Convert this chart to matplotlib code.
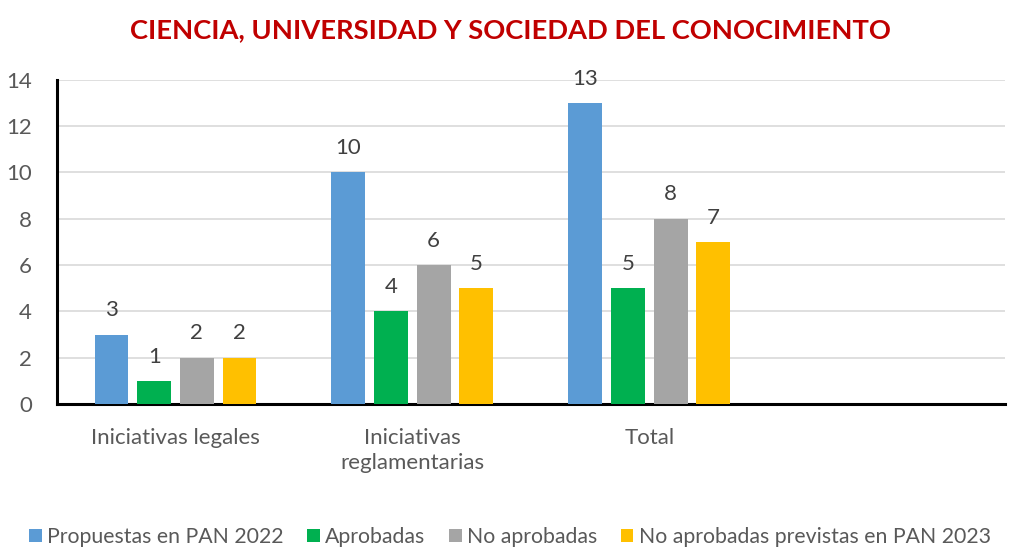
import matplotlib
matplotlib.use("Agg")
import matplotlib.pyplot as plt
import numpy as np

plt.rcParams["font.family"] = ["Lato", "DejaVu Sans"]

categorias = ["Iniciativas legales", "Iniciativas\nreglamentarias", "Total", ""]
series = [
    "Propuestas en PAN 2022",
    "Aprobadas",
    "No aprobadas",
    "No aprobadas previstas en PAN 2023",
]
propuestas = [3, 10, 13]
aprobadas = [1, 4, 5]
no_aprobadas = [2, 6, 8]
previstas = [2, 5, 7]
colores = ["#5B9BD5", "#00B050", "#A5A5A5", "#FFC000"]

gris = "#595959"

fig = plt.figure(figsize=(10.2, 5.47), dpi=100)
ax = fig.add_axes([0.0559, 0.2614, 0.9291, 0.5926])

x = np.arange(len(propuestas))
ancho = 0.143
paso = 0.18
for i, (vals, nombre, c) in enumerate(zip([propuestas, aprobadas, no_aprobadas, previstas], series, colores)):
    pos = x + (i - 1.5) * paso
    barras = ax.bar(pos, vals, width=ancho, color=c, label=nombre, zorder=3)
    for b, v in zip(barras, vals):
        ax.text(b.get_x() + b.get_width() / 2, v + 0.62, str(v),
                ha="center", va="bottom", fontsize=16, color="#404040")

ax.set_xlim(-0.5, 3.5)
ax.set_ylim(0, 14)
ax.set_yticks(range(0, 15, 2))
ax.set_xticks(range(len(categorias)))
ax.set_xticklabels(categorias, fontsize=16, color=gris, linespacing=1.35)
ax.tick_params(axis="y", labelsize=16, labelcolor=gris, length=0, pad=18)
ax.tick_params(axis="x", length=0, pad=17)
ax.yaxis.grid(True, color="#D9D9D9", linewidth=1.2, zorder=0)
ax.set_axisbelow(True)
for s in ["top", "right"]:
    ax.spines[s].set_visible(False)
for s in ["left", "bottom"]:
    ax.spines[s].set_color("black")
    ax.spines[s].set_linewidth(2.2)

fig.text(0.5, 1 - 30 / 547, "CIENCIA, UNIVERSIDAD Y SOCIEDAD DEL CONOCIMIENTO",
         ha="center", va="center", fontsize=19.7, fontweight="bold", color="#C00000")

fig.legend(loc="center", bbox_to_anchor=(0.5, 0.018), ncol=4, frameon=False,
           fontsize=15.3, labelcolor=gris, handlelength=0.6, handleheight=0.6,
           handletextpad=0.25, columnspacing=1.1, borderaxespad=0)

fig.savefig("out.png", dpi=100)
